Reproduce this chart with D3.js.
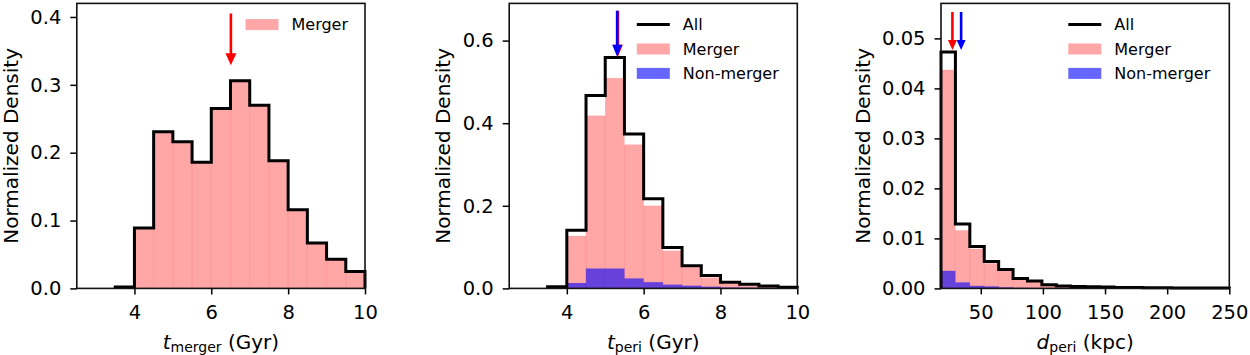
<!DOCTYPE html>
<html><head><meta charset="utf-8">
<script src="https://cdn.jsdelivr.net/npm/d3@7"></script>
<style>
body{margin:0;background:#fff;}
svg{display:block;font-family:"DejaVu Sans",sans-serif;}
</style></head>
<body><svg id="c" width="1250" height="355"></svg>
<script>
// ---------- data ----------
const edgesT = [3.5,4,4.5,5,5.5,6,6.5,7,7.5,8,8.5,9,9.5,10];
// panel 1: t_merger
const tMergerMerger = [0.002,0.089,0.231,0.216,0.186,0.265,0.306,0.270,0.188,0.116,0.067,0.043,0.025];
// panel 2: t_peri
const tPeriAll     = [0.004,0.141,0.467,0.559,0.374,0.217,0.099,0.055,0.031,0.015,0.010,0.006,0.003];
const tPeriMerger  = [0.003,0.127,0.418,0.509,0.348,0.200,0.091,0.051,0.026,0.012,0.007,0.004,0.002];
const tPeriNon     = [0.000,0.013,0.048,0.048,0.024,0.015,0.009,0.0065,0.004,0.002,0.0015,0.001,0.002];
// panel 3: d_peri
const edgesD = [18,29.6,41.2,52.8,64.4,76,87.6,99.2,110.8,122.4,134,145.6,157.2,168.8,180.4,192,203.6,215.2,226.8,238.4,250];
const dPeriAll    = [0.0473,0.0129,0.0084,0.0054,0.0038,0.0020,0.0015,0.00074,0.00047,0.0004,0.00034,0.00027,0.0002,0.00018,0.00015,0.00012,0.0001,0.0001,0.0001,0.0001];
const dPeriMerger = [0.0437,0.0116,0.0079,0.0050,0.0036,0.0019,0.0014,0.0007,0.00044,0.00037,0.00032,0.00025,0.00018,0.00016,0.00013,0.0001,0.00009,0.00009,0.00009,0.00009];
const dPeriNon    = [0.0035,0.0012,0.0005,0.0004,0.0002,0.0001,0.00008,0.00005,0.00003,0.00003,0.00002,0.00002,0.00002,0.00002,0.00002,0.00002,0.00001,0.00001,0.00001,0.00001];
// arrows: [x, yTop, yTip]
const arrowsP1 = [{c:"red", x:6.51, top:0.405, tip:0.329}];
const arrowsP2 = [{c:"red", x:5.33, top:0.672, tip:0.561},{c:"blue", x:5.31, top:0.672, tip:0.561}];
const arrowsP3 = [{c:"red", x:27.2, top:0.0553, tip:0.0477},{c:"blue", x:34.2, top:0.0553, tip:0.0477}];
const ticksX1 = [4,6,8,10], ticksY1 = [0,0.1,0.2,0.3,0.4];
const ticksY2 = [0,0.2,0.4,0.6];
const ticksX3 = [50,100,150,200,250], ticksY3 = [0,0.01,0.02,0.03,0.04,0.05];

const svg = d3.select("#c");
const TOP = 3.4, BOT = 288.4;

function panel(o){
  const x = d3.scaleLinear().domain(o.xdom).range([o.left,o.right]);
  const y = d3.scaleLinear().domain([0,o.ymax]).range([BOT,TOP]);
  const g = svg.append("g");
  const bins = o.edges.slice(0,-1).map((e,i)=>({x0:e,x1:o.edges[i+1],i}));
  function bars(vals,color,op){
    g.append("g").selectAll("rect").data(bins).join("rect")
      .attr("x",d=>x(d.x0)).attr("width",d=>x(d.x1)-x(d.x0))
      .attr("y",d=>y(vals[d.i])).attr("height",d=>y(0)-y(vals[d.i]))
      .attr("fill",color).attr("fill-opacity",op)
      .attr("stroke",color).attr("stroke-opacity",0.06).attr("stroke-width",1);
  }
  if(o.merger) bars(o.merger,"red",0.35);
  if(o.non) bars(o.non,"blue",0.6);
  // step outline
  const pts=[[o.edges[0],0]];
  o.all.forEach((v,i)=>{pts.push([o.edges[i],v]);pts.push([o.edges[i+1],v]);});
  pts.push([o.edges[o.edges.length-1],0]);
  g.append("path").attr("d",d3.line().x(d=>x(d[0])).y(d=>y(d[1]))(pts))
    .attr("fill","none").attr("stroke","#000").attr("stroke-width",3).attr("stroke-linejoin","miter");
  // arrows
  o.arrows.forEach(a=>{
    const cx=x(a.x), yt=y(a.top), yp=y(a.tip), hl=o.hl, hw=o.hw/2, sw=1.3;
    const p=`M${cx-sw},${yt}L${cx+sw},${yt}L${cx+sw},${yp-hl}L${cx+hw},${yp-hl}L${cx},${yp}L${cx-hw},${yp-hl}L${cx-sw},${yp-hl}Z`;
    g.append("path").attr("d",p).attr("fill",a.c);
  });
  // axes
  const ax = g.append("g").attr("transform",`translate(0,${BOT})`)
    .call(d3.axisBottom(x).tickValues(o.tx).tickSize(6).tickPadding(10.5).tickFormat(o.fx));
  const ay = g.append("g").attr("transform",`translate(${o.left},0)`)
    .call(d3.axisLeft(y).tickValues(o.ty).tickSize(6.5).tickPadding(9).tickFormat(o.fy));
  [ax,ay].forEach(a=>{
    a.select(".domain").remove();
    a.selectAll("line").attr("stroke","#000").attr("stroke-width",1.5);
    a.selectAll("text").attr("font-size",19.5).attr("fill","#000").attr("font-family","DejaVu Sans");
  });
  g.append("rect").attr("x",o.left).attr("y",TOP).attr("width",o.right-o.left).attr("height",BOT-TOP)
    .attr("fill","none").attr("stroke","#111").attr("stroke-width",1.6);
  // y label
  g.append("text").attr("transform",`translate(${o.left-o.ylOff},${(TOP+BOT)/2}) rotate(-90)`)
    .attr("text-anchor","middle").attr("font-size",20).text("Normalized Density");
  // x label
  const xl = g.append("text").attr("x",(o.left+o.right)/2).attr("y",349).attr("text-anchor","middle").attr("font-size",20);
  xl.append("tspan").attr("font-style","italic").text(o.sym);
  xl.append("tspan").attr("font-size",14).attr("dy",3).text(o.sub);
  xl.append("tspan").attr("dy",-3).text("\u00a0(" + o.unit + ")");
  // legend
  const lx = o.right - o.legOff;
  o.legend.forEach((it,i)=>{
    const cy = 24.6 + i*24.4;
    if(it.type==="line") g.append("line").attr("x1",lx).attr("x2",lx+33).attr("y1",cy).attr("y2",cy).attr("stroke","#000").attr("stroke-width",3);
    else g.append("rect").attr("x",lx).attr("y",cy-5.5).attr("width",33).attr("height",11).attr("fill",it.c).attr("fill-opacity",it.op);
    g.append("text").attr("x",lx+46).attr("y",cy+5.8).attr("font-size",16).text(it.t);
  });
}

const f1 = d3.format(".1f"), f2 = d3.format(".2f"), fi = d3.format("d");
panel({left:76.8,right:365,xdom:[2.5,10],ymax:0.42,edges:edgesT,merger:tMergerMerger,all:tMergerMerger,
  arrows:arrowsP1,hl:12,hw:11,tx:ticksX1,ty:ticksY1,fx:fi,fy:f1,ylOff:58.5,sym:"t",sub:"merger",unit:"Gyr",legOff:119.5,
  legend:[{type:"patch",c:"red",op:0.35,t:"Merger"}]});
panel({left:509.2,right:797.3,xdom:[2.5,10],ymax:0.69,edges:edgesT,merger:tPeriMerger,non:tPeriNon,all:tPeriAll,
  arrows:arrowsP2,hl:12,hw:10,tx:ticksX1,ty:ticksY2,fx:fi,fy:f1,ylOff:59.2,sym:"t",sub:"peri",unit:"Gyr",legOff:160.5,
  legend:[{type:"line",t:"All"},{type:"patch",c:"red",op:0.35,t:"Merger"},{type:"patch",c:"blue",op:0.6,t:"Non-merger"}]});
panel({left:941,right:1229.3,xdom:[18,250],ymax:0.057,edges:edgesD,merger:dPeriMerger,non:dPeriNon,all:dPeriAll,
  arrows:arrowsP3,hl:10,hw:9,tx:ticksX3,ty:ticksY3,fx:fi,fy:f2,ylOff:71,sym:"d",sub:"peri",unit:"kpc",legOff:161,
  legend:[{type:"line",t:"All"},{type:"patch",c:"red",op:0.35,t:"Merger"},{type:"patch",c:"blue",op:0.6,t:"Non-merger"}]});
</script></body></html>
